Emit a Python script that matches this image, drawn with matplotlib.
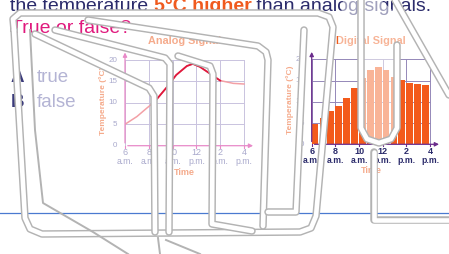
import numpy as np
import matplotlib.pyplot as plt

W, H = 449, 254

# analog signal (temperature curve)
curve_t = [6, 7, 7.8, 8.5, 9.5, 10.3, 11.2, 11.7, 12.3, 13.1, 14, 15.1, 16]
curve_temp = [5, 6.8, 8.7, 10.3, 13.6, 16.5, 18.6, 19.1, 18.4, 16.9, 15.2, 14.55, 14.4]

# digital signal (sampled every 40 minutes)
bar_t = [6 + i * 2 / 3 for i in range(15)]
bar_temp = [4.8, 6.3, 7.8, 9.1, 11.0, 13.3, 15.5, 17.4, 18.2, 17.5, 15.9, 15.1, 14.4, 14.2, 14.0]

hours = [6, 8, 10, 12, 14, 16]
hour_labels = ['6', '8', '10', '12', '2', '4']
ampm = ['a.m.', 'a.m.', 'a.m.', 'p.m.', 'p.m.', 'p.m.']
temps = [0, 5, 10, 15, 20]

navy = '#2b2b6b'
peach = '#f5ab8c'
lav = '#a9a9cc'

plt.rcParams['font.family'] = ['Liberation Sans', 'DejaVu Sans']
fig = plt.figure(figsize=(W / 100, H / 100), dpi=100)


def rect(x, y, w, h):
    return [x / W, 1 - (y + h) / H, w / W, h / H]


bg = fig.add_axes([0, 0, 1, 1], zorder=0)
bg.set_xlim(0, W)
bg.set_ylim(H, 0)
bg.axis('off')

# header text, pieces chained one after another
r = fig.canvas.get_renderer()
x = 10
for s, c in [('the temperature ', navy), ('5°C higher', '#f05a1e'), (' than analog signals.', navy)]:
    t = bg.text(x, 11, s, color=c, fontsize=14, va='baseline', fontweight='bold' if c != navy else 'normal')
    x += t.get_window_extent(r).width
bg.text(11, 33, 'True or false?', color='#e0197d', fontsize=14, va='baseline')
bg.text(11, 82, 'A', color='#3a3a7a', fontsize=13.5, fontweight='bold', va='baseline')
bg.text(37, 82, 'true', color='#b4b4d4', fontsize=13.5, va='baseline')
bg.text(11, 107, 'B', color='#3a3a7a', fontsize=13.5, fontweight='bold', va='baseline')
bg.text(37, 107, 'false', color='#b4b4d4', fontsize=13.5, va='baseline')
bg.plot([0, W], [213, 213], color='#4a7ad0', lw=0.9)


def chart(ax, axis_c, grid_c, tick_c, tick_w, title, title_c):
    ax.set_xlim(6, 17)
    ax.set_ylim(0, 22.5)
    ax.axis('off')
    for h in hours:
        ax.plot([h, h], [0, 20], color=grid_c, lw=0.7, zorder=1)
    for v in temps[1:]:
        ax.plot([6, 16], [v, v], color=grid_c, lw=0.7, zorder=1)
    for h in hours:
        ax.plot([h, h], [0, -0.5], color=axis_c, lw=0.8, clip_on=False)
    ax.annotate('', xy=(17, 0), xytext=(6, 0),
                arrowprops=dict(arrowstyle='-|>', color=axis_c, lw=0.9, mutation_scale=6), zorder=4)
    ax.annotate('', xy=(6, 22.4), xytext=(6, 0),
                arrowprops=dict(arrowstyle='-|>', color=axis_c, lw=0.9, mutation_scale=6), zorder=4)
    for h, lab, ap in zip(hours, hour_labels, ampm):
        ax.text(h, -1.6, lab, ha='center', va='center', fontsize=6.5, color=tick_c,
                fontweight=tick_w, clip_on=False)
        ax.text(h, -3.8, ap, ha='center', va='center', fontsize=6.2, color=tick_c,
                fontweight=tick_w, clip_on=False)
    for v in temps:
        ax.text(5.35, v, str(v), ha='right', va='center', fontsize=5.8, color=lav, clip_on=False)
    ax.text(4.15, 10.5, 'Temperature (°C)', rotation=90, ha='center', va='center',
            fontsize=6, color=peach, fontweight='bold', clip_on=False)
    ax.text(11, -6.2, 'Time', ha='center', va='center', fontsize=6.5, color=peach,
            fontweight='bold', clip_on=False)
    ax.text(11, 24.4, title, ha='center', va='center', fontsize=7.8, color=title_c,
            fontweight='bold', clip_on=False)


ax1 = fig.add_axes(rect(125, 49.3, 130.9, 96.4), zorder=1)
chart(ax1, '#e88ac8', '#c9c3de', lav, 'normal', 'Analog Signal', '#f5ab8c')
ax1.plot(curve_t, curve_temp, color='#f3a0a6', lw=1.1, zorder=3)
ax1.plot(curve_t[3:11], curve_temp[3:11], color='#e0183c', lw=1.3, zorder=3)

ax2 = fig.add_axes(rect(311.7, 48.7, 130.1, 95.6), zorder=1)
chart(ax2, '#6b2c8c', '#9488b8', navy, 'bold', 'Digital Signal', '#ef5a1a')
ax2.bar(bar_t, bar_temp, width=0.57, align='edge', color='#f35a1b', zorder=2)

# overlay: translucent white patch and gray outlined strokes
ov = fig.add_axes([0, 0, 1, 1], zorder=5)
ov.set_xlim(0, W)
ov.set_ylim(H, 0)
ov.axis('off')
ov.fill([343, 381, 420, 420, 398, 398, 392, 379, 366, 360, 360, 338, 338],
        [0, 0, 35, 52, 60, 128, 139, 143, 139, 128, 60, 52, 35], color='white', alpha=0.55, lw=0)

strokes = [
    [(14, 30), (13, 19), (20, 13), (318, 13), (329, 17), (333, 27), (316, 216), (311, 228),
     (300, 232), (42, 234), (30, 229), (25, 218), (14, 30)],
    [(88, 20), (258, 46), (266, 52), (268, 60), (263, 226)],
    [(55, 30), (165, 58), (170, 64), (169, 232)],
    [(35, 34), (149, 88), (154, 96), (155, 232)],
    [(178, 56), (210, 66), (213, 74), (212, 224), (252, 231)],
    [(268, 212), (296, 212), (304, 30)],
    [(361, 0), (361, 128), (367, 139), (379, 143), (391, 139), (397, 128), (397, 45)],
    [(374, 152), (374, 220), (449, 220)],
    [(395, 0), (449, 95)],
]
for s in strokes:
    xs, ys = zip(*s)
    ov.plot(xs, ys, color='#b3b3b3', lw=5.4, solid_capstyle='round', solid_joinstyle='round')
    ov.plot(xs, ys, color='white', lw=3.3, solid_capstyle='round', solid_joinstyle='round')

thin = [
    [(30, 30), (35, 130), (43, 203), (93, 232), (128, 254)],
    [(158, 238), (160, 254)],
    [(166, 240), (200, 254)],
]
for s in thin:
    xs, ys = zip(*s)
    ov.plot(xs, ys, color='#b3b3b3', lw=1.4)

fig.savefig('out.png', dpi=100)
